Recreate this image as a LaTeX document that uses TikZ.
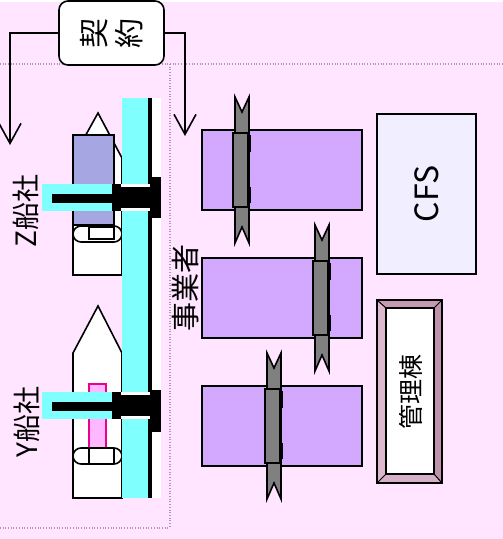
\documentclass[tikz,border=0pt]{standalone}
\usepackage{graphicx}
\usepackage{fontspec}
\setmainfont{Noto Sans CJK JP}
\usepackage{tikz}
\usetikzlibrary{arrows.meta,positioning}

\definecolor{bgpink}{RGB}{255,229,255}
\definecolor{quaycyan}{RGB}{128,255,255}
\definecolor{cargoblue}{RGB}{166,166,226}
\definecolor{cargopink}{RGB}{255,183,255}
\definecolor{whpurple}{RGB}{211,168,255}
\definecolor{cfsfill}{RGB}{240,238,255}
\definecolor{dotgray}{RGB}{176,150,182}
\definecolor{craneg}{RGB}{128,128,128}
\definecolor{bevtop}{RGB}{198,154,180}
\definecolor{bevleft}{RGB}{221,184,204}
\definecolor{bevright}{RGB}{192,147,172}
\definecolor{bevbot}{RGB}{214,176,198}

\begin{document}
\begin{tikzpicture}[x=1pt,y=-1pt,>={Straight Barb[length=20pt,width=22pt]},
blackline/.style={draw=black,line width=1.6pt},
dotline/.style={dotgray,line width=1.8pt,dash pattern=on 0.9pt off 1.8pt},
sidelabel/.style={rotate=90,inner sep=0pt,font=\fontsize{28}{30}\selectfont},
whbox/.style={blackline,fill=whpurple},
cfsbox/.style={blackline,fill=cfsfill,rotate=90,minimum width=160pt,minimum height=99pt,font=\fontsize{32}{34}\selectfont}]
\useasboundingbox (0,0) rectangle (503,539);
\fill[bgpink] (0,2) rectangle (503,539);

% area borders
\draw[dotline] (0,64) -- (503,64);
\draw[dotline] (170,64) -- (170,528);
\draw[dotline] (0,528) -- (170,528);

% Z ship
\draw[blackline,fill=white] (73,275) -- (73,158) -- (98,113) -- (122,158) -- (122,275) -- cycle;
\draw[blackline,fill=cargoblue] (73,135) rectangle (114,225);
\draw[blackline,fill=white,rounded corners=8pt] (73,226) rectangle (122,242);
\draw[blackline] (89,227) rectangle (114,239);

% Y ship
\draw[blackline,fill=white] (73,498) -- (73,353) -- (98,306) -- (122,353) -- (122,498) -- cycle;
\draw[magenta,line width=1.6pt,fill=cargopink] (89,384) rectangle (106,450);
\draw[blackline,fill=white,rounded corners=8pt] (73,448) rectangle (122,464);
\draw[blackline] (89,448) -- (89,464) (114,448) -- (114,464);

% quay
\fill[quaycyan] (122,98) rectangle (148,498);
\fill[black] (148,98) rectangle (152,498);
\fill[white] (152,98) rectangle (161,498);

% loading arms at the berths
\foreach \t/\u/\v in {184/177/218,392/390/432}{
  \fill[white] (121,\t) rectangle (150,\t+27);
  \fill[black] (121,\t+3) rectangle (150,\t+24);
  \fill[quaycyan] (42,\t) rectangle (112,\t+27);
  \fill[black] (52,\t+10) rectangle (112,\t+19);
  \fill[black] (112,\t) rectangle (121,\t+27);
  \fill[black] (150,\u) rectangle (161,\v);
}

% warehouses with cranes
\foreach \cx/\ry in {235/130,315/258,267/386}{
  \draw[whbox] (202,\ry) rectangle (362,\ry+80);
  \draw[blackline,fill=craneg] (\cx,\ry-33) -- (\cx+7,\ry-18) -- (\cx+14,\ry-33)
    -- (\cx+14,\ry+113) -- (\cx+7,\ry+97) -- (\cx,\ry+113) -- cycle;
  \draw[blackline,fill=craneg] (\cx-2,\ry+3) rectangle (\cx+13,\ry+77);
  \fill[black] (\cx+13,\ry+5) rectangle (\cx+15.5,\ry+22);
  \fill[black] (\cx+13,\ry+57) rectangle (\cx+15.5,\ry+73);
}

\node[cfsbox] (cfs) at (426.5,194) {CFS};

% admin building (bevelled frame)
\fill[bevtop] (377,300) -- (442,300) -- (434,308) -- (386,308) -- cycle;
\fill[bevbot] (377,483) -- (442,483) -- (434,474) -- (386,474) -- cycle;
\fill[bevleft] (377,300) -- (386,308) -- (386,474) -- (377,483) -- cycle;
\fill[bevright] (442,300) -- (434,308) -- (434,474) -- (442,483) -- cycle;
\draw[line width=1pt] (377,300) -- (386,308) (442,300) -- (434,308)
  (377,483) -- (386,474) (442,483) -- (434,474);
\draw[blackline,fill=white] (386,308) rectangle (434,474);
\draw[blackline] (377,300) rectangle (442,483);
\node[sidelabel,font=\fontsize{25}{28}\selectfont] (admin) at (411,392) {管理棟};

% labels
\node[sidelabel] (zship) at (26,211) {Z船社};
\node[sidelabel] (yship) at (27,422) {Y船社};
\node[sidelabel,font=\fontsize{29}{32}\selectfont] (operator) at (186,288) {事業者};

% contract
\node[blackline,fill=white,rounded corners=9pt,minimum width=105pt,minimum height=64pt,
  font=\fontsize{30}{32}\selectfont] (contract) at (111.5,33)
  {\rotatebox{90}{契}\hspace{8pt}\rotatebox{90}{約}};
\coordinate (toship) at (10,145);
\coordinate (toop) at (185,136);
\draw[->,line width=1.6pt] (contract.west) -| (toship);
\draw[->,line width=1.6pt] (contract.east) -| (toop);
\end{tikzpicture}
\end{document}
